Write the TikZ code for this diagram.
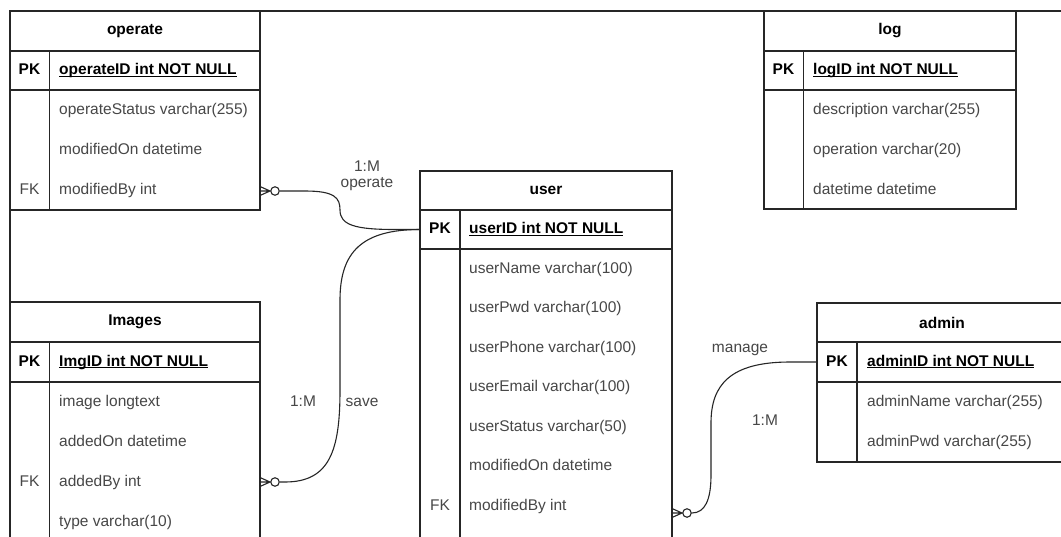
\documentclass[tikz,border=0pt]{standalone}
\usepackage{fontspec}
\setmainfont{Liberation Sans}
\newcommand\keyul[1]{\underline{\smash{#1}}}
\begin{document}
\begin{tikzpicture}[x=1pt,y=-1pt,
  font=\fontsize{15.5}{18}\selectfont,
  conn/.style={line width=1.1pt, draw=black!85},
  cell/.style={draw=black!85, line width=1.1pt, anchor=north west, inner sep=0pt, outer sep=0pt},
  headcell/.style={cell, font=\fontsize{15.5}{18}\selectfont\bfseries, text=black},
  field/.style={anchor=west, inner sep=0pt, text=black!72, text height=11.5pt, text depth=3.5pt},
  keylbl/.style={field, anchor=center},
  pkfield/.style={field, text=black, font=\fontsize{15.5}{18}\selectfont\bfseries},
  pkkey/.style={pkfield, anchor=center},
  lbl/.style={inner sep=0pt, text=black!72, text height=11.5pt, text depth=3.5pt, align=center},
  ring/.style={circle, draw=black!85, line width=1.1pt, minimum size=8.5pt, inner sep=0pt, fill=white},
  zmany/.pic={\draw[conn] (0,-4.5) -- (10,0) -- (0,4.5) (0,0) -- (10,0);},
]
\useasboundingbox (0,0) rectangle (1061,536);
\fill[white] (0,0) rectangle (1061,536);
\clip (0,0) rectangle (1061,536);

% outer frame
\draw[conn] (10,560) -- (10,11) -- (1080,11);

% ---------- operate ----------
\node[headcell, minimum width=250, minimum height=40] (opHead) at (10,11) {operate};
\node[cell, minimum width=250, minimum height=39] (opPK) at (10,51) {};
\node[cell, minimum width=250, minimum height=120] (opBody) at (10,90) {};
\draw[conn] ([xshift=39.5pt]opPK.north west) -- ([xshift=39.5pt]opBody.south west);
\node[pkkey] (opK1) at (29.5,70.5) {PK};
\node[pkfield] (opID) at (59,70.5) {\keyul{operateID int NOT NULL}};
\node[field] (opF1) at (59,110) {operateStatus varchar(255)};
\node[field] (opF2) at (59,150) {modifiedOn datetime};
\node[field] (opF3) at (59,190) {modifiedBy int};
\node[keylbl] (opK2) at (29.5,190) {FK};

% ---------- Images ----------
\node[headcell, minimum width=250, minimum height=40] (imHead) at (10,302) {Images};
\node[cell, minimum width=250, minimum height=40] (imPK) at (10,342) {};
\node[cell, minimum width=250, minimum height=200] (imBody) at (10,382) {};
\draw[conn] ([xshift=39.5pt]imPK.north west) -- ([xshift=39.5pt]imBody.south west);
\node[pkkey] (imK1) at (29.5,362) {PK};
\node[pkfield] (imID) at (59,362) {\keyul{ImgID int NOT NULL}};
\node[field] (imF1) at (59,402) {image longtext};
\node[field] (imF2) at (59,442) {addedOn datetime};
\node[field] (imF3) at (59,482) {addedBy int};
\node[field] (imF4) at (59,522) {type varchar(10)};
\node[keylbl] (imK2) at (29.5,482) {FK};

% ---------- user ----------
\node[headcell, minimum width=252, minimum height=39] (usHead) at (420,171) {user};
\node[cell, minimum width=252, minimum height=39] (usPK) at (420,210) {};
\node[cell, minimum width=252, minimum height=340] (usBody) at (420,249) {};
\draw[conn] ([xshift=40pt]usPK.north west) -- ([xshift=40pt]usBody.south west);
\node[pkkey] (usK1) at (440,229.5) {PK};
\node[pkfield] (usID) at (469,229.5) {\keyul{userID int NOT NULL}};
\node[field] (usF1) at (469,269) {userName varchar(100)};
\node[field] (usF2) at (469,308.5) {userPwd varchar(100)};
\node[field] (usF3) at (469,348) {userPhone varchar(100)};
\node[field] (usF4) at (469,387.5) {userEmail varchar(100)};
\node[field] (usF5) at (469,427) {userStatus varchar(50)};
\node[field] (usF6) at (469,466.5) {modifiedOn datetime};
\node[field] (usF7) at (469,506) {modifiedBy int};
\node[keylbl] (usK2) at (440,506) {FK};

% ---------- log ----------
\node[headcell, minimum width=252, minimum height=40] (lgHead) at (764,11) {log};
\node[cell, minimum width=252, minimum height=39] (lgPK) at (764,51) {};
\node[cell, minimum width=252, minimum height=119] (lgBody) at (764,90) {};
\draw[conn] ([xshift=39.5pt]lgPK.north west) -- ([xshift=39.5pt]lgBody.south west);
\node[pkkey] (lgK1) at (783.5,70.5) {PK};
\node[pkfield] (lgID) at (813,70.5) {\keyul{logID int NOT NULL}};
\node[field] (lgF1) at (813,110) {description varchar(255)};
\node[field] (lgF2) at (813,150) {operation varchar(20)};
\node[field] (lgF3) at (813,190) {datetime datetime};

% ---------- admin ----------
\node[headcell, minimum width=250, minimum height=39] (adHead) at (817,303) {admin};
\node[cell, minimum width=250, minimum height=40] (adPK) at (817,342) {};
\node[cell, minimum width=250, minimum height=80] (adBody) at (817,382) {};
\draw[conn] ([xshift=40pt]adPK.north west) -- ([xshift=40pt]adBody.south west);
\node[pkkey] (adK1) at (837,362) {PK};
\node[pkfield] (adID) at (867,362) {\keyul{adminID int NOT NULL}};
\node[field] (adF1) at (867,402) {adminName varchar(255)};
\node[field] (adF2) at (867,442) {adminPwd varchar(255)};

% ---------- relationships ----------
% operate.modifiedBy -> user.userID
\coordinate (opFK) at (260,191);
\pic at (opFK) {zmany};
\node[ring] (r1) at (275,191) {};
\draw[conn] (r1.east) -- (305,191) .. controls (335,191) and (340,198) .. (340,210)
  .. controls (340,225) and (355,229.5) .. (395,229.5) -- (usPK.west);
\node[lbl] (l1) at (367,183) {1:M\\[-2pt]operate};

% Images.addedBy -> user.userID
\coordinate (imFK) at (260,482);
\pic at (imFK) {zmany};
\node[ring] (r2) at (275,482) {};
\draw[conn] (r2.east) -- (285,482) .. controls (330,482) and (340,450) .. (340,390)
  -- (340,300) .. controls (340,252) and (362,229.5) .. (usPK.west);
\node[lbl] (l2) at (303,402) {1:M};
\node[lbl] (l3) at (362,402) {save};

% user.modifiedBy -> admin.adminID
\coordinate (usFK) at (672,513);
\pic at (usFK) {zmany};
\node[ring] (r3) at (687,513) {};
\draw[conn] (r3.east) .. controls (705,513) and (711,500) .. (711,475)
  -- (711,423) .. controls (711,385) and (730,362) .. (790,362) -- (adPK.west);
\node[lbl] (l4) at (740,348) {manage};
\node[lbl] (l5) at (765,421) {1:M};
\end{tikzpicture}
\end{document}
